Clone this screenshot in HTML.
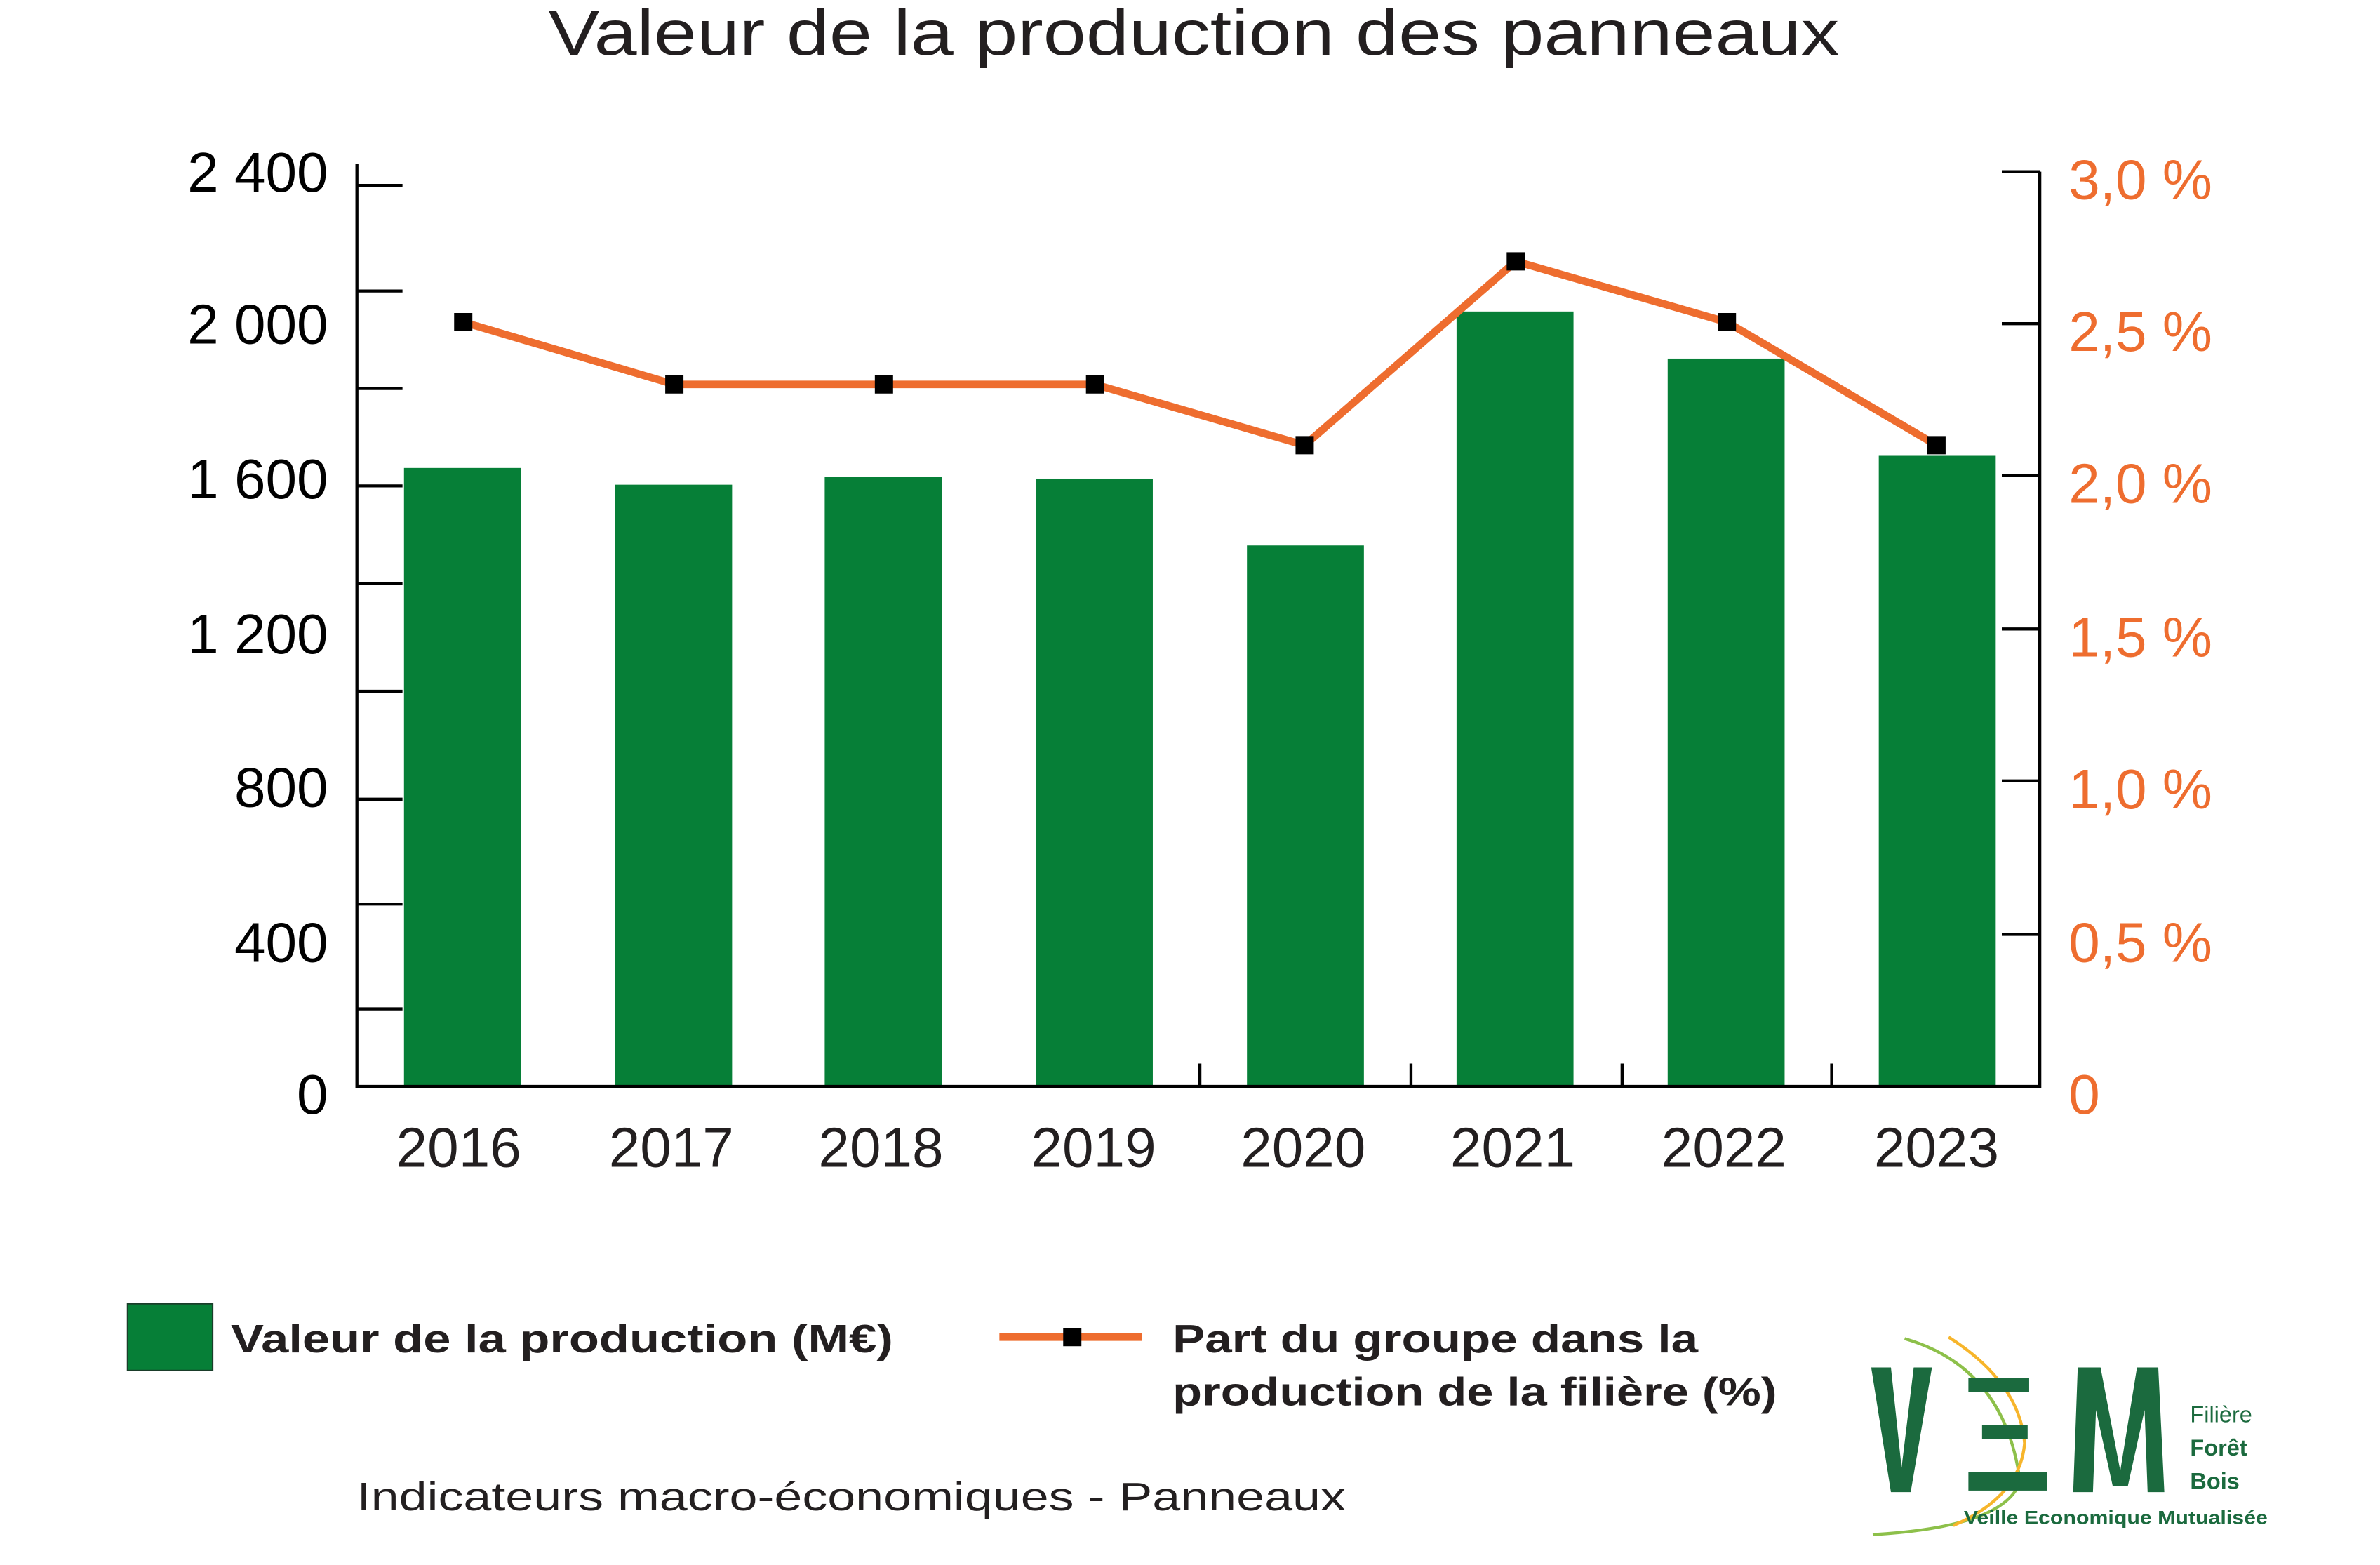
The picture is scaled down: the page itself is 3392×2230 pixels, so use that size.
<!DOCTYPE html>
<html><head><meta charset="utf-8"><style>
html,body{margin:0;padding:0;background:#fff;overflow:hidden;width:3392px;height:2230px;}
svg{display:block;}
text{font-family:"Liberation Sans",sans-serif;}
</style></head><body>
<svg width="3392" height="2230" viewBox="0 0 1567 1030" preserveAspectRatio="none" xmlns="http://www.w3.org/2000/svg">
<rect width="1567" height="1030" fill="#fff"/>
<text x="786" y="36" font-size="42" text-anchor="middle" fill="#231f20" textLength="850" lengthAdjust="spacingAndGlyphs">Valeur de la production des panneaux</text>
<g fill="#067f37">
<rect x="266" y="308" width="77" height="407"/>
<rect x="405" y="319" width="77" height="396"/>
<rect x="543" y="314" width="77" height="401"/>
<rect x="682" y="315" width="77" height="400"/>
<rect x="821" y="359" width="77" height="356"/>
<rect x="959" y="205" width="77" height="510"/>
<rect x="1098" y="236" width="77" height="479"/>
<rect x="1237" y="300" width="77" height="415"/>
</g>
<g stroke="#000" stroke-width="2" fill="none">
<path d="M235 108 V715 H1343 V113"/>
<path d="M235 122h30M235 191.5h30M235 255.7h30M235 319.8h30M235 384h30M235 455h30M235 526h30M235 595h30M235 664h30"/>
<path d="M1318 113h25M1318 213h25M1318 313h25M1318 414h25M1318 514h25M1318 615h25"/>
<path d="M790 700v15M929 700v15M1068 700v15M1206 700v15"/>
</g>
<g font-size="37" fill="#000" text-anchor="end">
<text x="216" y="126">2 400</text>
<text x="216" y="226">2 000</text>
<text x="216" y="328">1 600</text>
<text x="216" y="430">1 200</text>
<text x="216" y="531">800</text>
<text x="216" y="633">400</text>
<text x="216" y="733">0</text>
</g>
<g font-size="37" fill="#ee6d2f">
<text x="1362" y="131">3,0 %</text>
<text x="1362" y="231">2,5 %</text>
<text x="1362" y="331">2,0 %</text>
<text x="1362" y="432">1,5 %</text>
<text x="1362" y="532">1,0 %</text>
<text x="1362" y="633">0,5 %</text>
<text x="1362" y="733">0</text>
</g>
<g font-size="37" fill="#231f20" text-anchor="middle">
<text x="302" y="768">2016</text><text x="442" y="768">2017</text><text x="580" y="768">2018</text><text x="720" y="768">2019</text>
<text x="858" y="768">2020</text><text x="996" y="768">2021</text><text x="1135" y="768">2022</text><text x="1275" y="768">2023</text>
</g>
<polyline points="305,212 444,253 582,253 721,253 859,293 998,172 1137,212 1275,293" fill="none" stroke="#ee6d2f" stroke-width="5"/>
<g fill="#000">
<rect x="299" y="206" width="12" height="12"/><rect x="438" y="247" width="12" height="12"/><rect x="576" y="247" width="12" height="12"/><rect x="715" y="247" width="12" height="12"/>
<rect x="853" y="287" width="12" height="12"/><rect x="992" y="166" width="12" height="12"/><rect x="1131" y="206" width="12" height="12"/><rect x="1269" y="287" width="12" height="12"/>
</g>
<rect x="84" y="858" width="56" height="44" fill="#067f37" stroke="#1a3d2a" stroke-width="1"/>
<text x="152" y="890" font-size="26" font-weight="bold" fill="#231f20" textLength="436" lengthAdjust="spacingAndGlyphs">Valeur de la production (M€)</text>
<line x1="658" y1="880" x2="752" y2="880" stroke="#ee6d2f" stroke-width="5"/>
<rect x="700" y="874" width="12" height="12" fill="#000"/>
<text x="772" y="890" font-size="26" font-weight="bold" fill="#231f20" textLength="346" lengthAdjust="spacingAndGlyphs">Part du groupe dans la</text>
<text x="772" y="925" font-size="26" font-weight="bold" fill="#231f20" textLength="398" lengthAdjust="spacingAndGlyphs">production de la filière (%)</text>
<text x="235" y="994" font-size="26" fill="#231f20" textLength="651" lengthAdjust="spacingAndGlyphs">Indicateurs macro-économiques - Panneaux</text>
<g>
<path d="M1254 881 Q1320 900 1330 975 Q1320 1005 1233 1010" fill="none" stroke="#8dc04a" stroke-width="2"/>
<path d="M1283 880 Q1330 910 1333 950 Q1330 985 1286 1004" fill="none" stroke="#f7b52b" stroke-width="2"/>
<polygon points="1232,900 1245,900 1252,966 1260,900 1272,900 1258,982 1245,982" fill="#1b6a3e"/>
<rect x="1296" y="907" width="40" height="9" fill="#1b6a3e"/>
<rect x="1305" y="938" width="30" height="9" fill="#1b6a3e"/>
<rect x="1296" y="969" width="52" height="12" fill="#1b6a3e"/>
<polygon points="1368,900 1383,900 1396,968 1407,900 1421,900 1425,982 1414,982 1412,928 1401,978 1391,978 1380,928 1378,982 1365,982" fill="#1b6a3e"/>
<text x="1442" y="936" font-size="15" fill="#1b6a3e">Filière</text>
<text x="1442" y="958" font-size="15" font-weight="bold" fill="#1b6a3e">Forêt</text>
<text x="1442" y="980" font-size="15" font-weight="bold" fill="#1b6a3e">Bois</text>
<text x="1293" y="1003" font-size="12.5" font-weight="bold" fill="#1b6a3e" textLength="200" lengthAdjust="spacingAndGlyphs">Veille Economique Mutualisée</text>
</g>
</svg>
</body></html>
